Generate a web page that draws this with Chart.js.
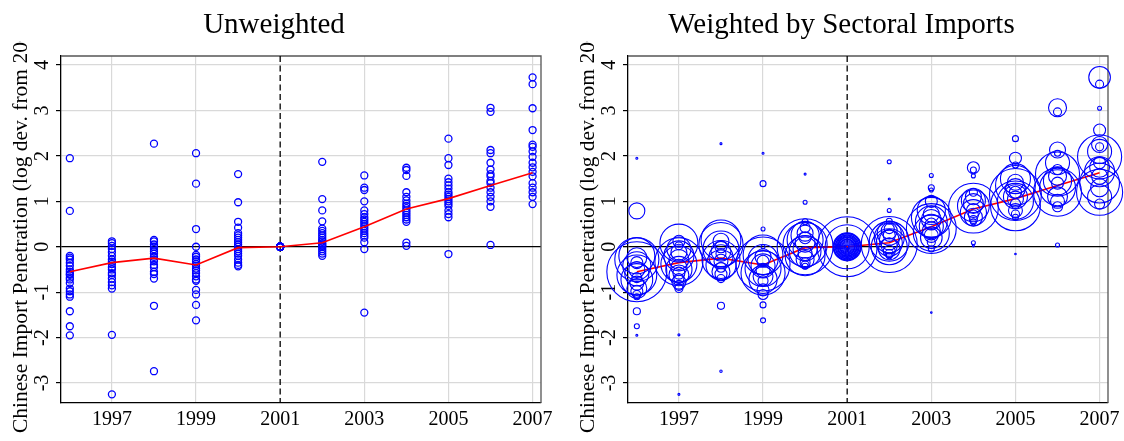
<!DOCTYPE html>
<html>
<head>
<meta charset="utf-8">
<script src="https://cdn.jsdelivr.net/npm/chart.js@4/dist/chart.umd.min.js"></script>
<style>
  body { margin: 0; background: #fff; }
  #wrap { position: relative; width: 1124px; height: 441px; overflow: hidden; }
  canvas { position: absolute; top: 0; }
</style>
</head>
<body>
<div id="wrap">
  <canvas id="left" width="562" height="441" style="left:0"></canvas>
  <canvas id="right" width="562" height="441" style="left:562px"></canvas>
</div>
<script>
// years on the x axis, labelled every other year
const years = [1996, 1997, 1998, 1999, 2000, 2001, 2002, 2003, 2004, 2005, 2006, 2007];
const xTickValues = [1997, 1999, 2001, 2003, 2005, 2007];
const xTickLabels = ['1997', '1999', '2001', '2003', '2005', '2007'];
const yTicks = [-3, -2, -1, 0, 1, 2, 3, 4];

// red line (mean across sectors)
const meanPen = [-0.55, -0.35, -0.25, -0.40, -0.02, 0, 0.09, 0.44, 0.83, 1.06, 1.35, 1.63];

// sector values (log dev. from 2001) and sector imports (weights), per year
const pen1996 = [1.95, 0.79, -0.2, -0.24, -0.28, -0.35, -0.42, -0.5, -0.55, -0.6, -0.62, -0.68, -0.72, -0.8, -0.92, -0.98, -1.05, -1.1, -1.42, -1.75, -1.95];
const imp1996 = [0.11, 7.1, 36, 11, 54, 4, 22, 7.1, 100, 16, 44, 2.8, 28, 5.4, 11, 4, 1.8, 1, 1.4, 0.7, 0.11];
const pen1997 = [0.12, 0.08, 0.02, -0.05, -0.12, -0.2, -0.28, -0.33, -0.38, -0.45, -0.5, -0.58, -0.62, -0.7, -0.78, -0.85, -0.92, -1.94, -3.25];
const imp1997 = [4, 40, 1.8, 16, 7.1, 25, 11, 64, 36, 7.1, 19, 4, 11, 2.8, 5.4, 2.8, 1.8, 0.11, 0.11];
const pen1998 = [2.27, 0.15, 0.12, 0.05, 0.0, -0.05, -0.1, -0.15, -0.22, -0.28, -0.32, -0.4, -0.45, -0.55, -0.6, -0.7, -1.3, -2.74];
const imp1998 = [0.11, 44, 7.1, 54, 4, 36, 11, 2.8, 16, 40, 5.4, 25, 2.8, 9, 4, 1.8, 1.4, 0.16];
const pen1999 = [2.06, 1.39, 0.39, 0.0, -0.18, -0.22, -0.28, -0.32, -0.38, -0.42, -0.48, -0.52, -0.58, -0.65, -0.72, -0.75, -0.95, -1.05, -1.28, -1.62];
const imp1999 = [0.11, 1, 0.44, 0.44, 44, 7.1, 25, 4, 81, 16, 36, 5.4, 54, 11, 22, 2.8, 4, 2.8, 1, 0.7];
const pen2000 = [1.6, 0.98, 0.55, 0.42, 0.3, 0.25, 0.2, 0.15, 0.1, 0.05, 0.0, -0.05, -0.1, -0.15, -0.2, -0.28, -0.35, -0.4, -0.43];
const imp2000 = [0.11, 0.44, 1, 2.8, 7.1, 22, 4, 36, 11, 54, 87, 16, 28, 5.4, 44, 9, 2.8, 1.8, 1];
const pen2001 = [0, 0, 0, 0, 0, 0, 0, 0, 0, 0, 0, 0, 0, 0, 0, 0, 0, 0, 0, 0];
const imp2001 = [100, 54, 22, 20, 19, 16, 15, 13, 11, 10, 9, 7.1, 6.3, 5.4, 4, 2.8, 1.8, 1, 0.44, 0.25];
const pen2002 = [1.87, 1.05, 0.8, 0.56, 0.4, 0.35, 0.3, 0.25, 0.2, 0.15, 0.12, 0.08, 0.05, 0.02, 0.0, -0.05, -0.1, -0.15, -0.2];
const imp2002 = [0.44, 0.11, 0.44, 1, 2.8, 7.1, 16, 4, 25, 11, 44, 19, 87, 7.1, 36, 13, 4, 1.8, 1];
const pen2003 = [1.57, 1.3, 1.25, 1.0, 0.8, 0.72, 0.65, 0.6, 0.55, 0.5, 0.45, 0.4, 0.35, 0.3, 0.25, 0.2, 0.1, -0.05, -1.45];
const imp2003 = [0.44, 1, 0.44, 4, 22, 7.1, 44, 11, 28, 4, 16, 69, 9, 36, 5.4, 13, 1.8, 1, 0.07];
const pen2004 = [1.74, 1.69, 1.56, 1.2, 1.1, 1.02, 0.95, 0.9, 0.85, 0.8, 0.75, 0.7, 0.65, 0.6, 0.55, 0.09, 0.02];
const imp2004 = [4, 1, 0.44, 1.8, 7.1, 16, 11, 28, 69, 5.4, 19, 2.8, 9, 1.8, 1, 0.44, 0.11];
const pen2005 = [2.38, 1.95, 1.8, 1.5, 1.42, 1.35, 1.28, 1.2, 1.15, 1.1, 1.05, 1.0, 0.95, 0.9, 0.8, 0.72, 0.65, -0.16];
const imp2005 = [1, 4, 1, 25, 7.1, 44, 11, 4, 75, 16, 7.1, 36, 2.8, 69, 5.4, 1.8, 1, 0.07];
const pen2006 = [3.06, 2.97, 2.13, 2.06, 1.85, 1.7, 1.6, 1.55, 1.45, 1.4, 1.3, 1.2, 1.1, 1.0, 0.88, 0.04];
const imp2006 = [9, 1.8, 7.1, 1, 16, 2.8, 54, 9, 22, 4, 36, 64, 11, 5.4, 2.8, 0.44];
const pen2007 = [3.73, 3.58, 3.05, 2.57, 2.25, 2.2, 2.1, 1.98, 1.85, 1.75, 1.65, 1.55, 1.4, 1.3, 1.2, 1.1, 0.94];
const imp2007 = [13, 1.8, 0.44, 4, 7.1, 1.8, 16, 54, 4, 11, 25, 7.1, 44, 9, 59, 16, 2.8];

const penByYear = [pen1996, pen1997, pen1998, pen1999, pen2000, pen2001, pen2002, pen2003, pen2004, pen2005, pen2006, pen2007];
const impByYear = [imp1996, imp1997, imp1998, imp1999, imp2000, imp2001, imp2002, imp2003, imp2004, imp2005, imp2006, imp2007];

const yTitle = 'Chinese Import Penetration (log dev. from 2001)';

Chart.defaults.font.family = '"Liberation Serif", "DejaVu Serif", serif';
Chart.defaults.color = '#000';

const points = [];
years.forEach((yr, i) => {
  penByYear[i].forEach((v, j) => points.push({ x: yr, y: v, w: impByYear[i][j] }));
});
const meanPoints = years.map((yr, i) => ({ x: yr, y: meanPen[i] }));

// dashed 2001 line, frame, titles
const decor = {
  id: 'decor',
  beforeDatasetsDraw(chart) {
    const { ctx, chartArea: a, scales: { x } } = chart;
    const px = x.getPixelForValue(2001);
    ctx.save();
    ctx.strokeStyle = '#555';
    ctx.lineWidth = 1.3;
    ctx.beginPath();
    ctx.moveTo(a.left, a.top); ctx.lineTo(a.right, a.top); ctx.lineTo(a.right, a.bottom);
    ctx.stroke();
    ctx.strokeStyle = '#000';
    ctx.setLineDash([6, 3.5]);
    ctx.beginPath(); ctx.moveTo(px, a.top); ctx.lineTo(px, a.bottom); ctx.stroke();
    ctx.restore();
  },
  afterDraw(chart, args, o) {
    const ctx = chart.ctx;
    ctx.save();
    ctx.fillStyle = '#000';
    ctx.font = '29px "Liberation Serif"';
    ctx.textAlign = 'center';
    ctx.textBaseline = 'alphabetic';
    ctx.fillText(o.title, o.titleX, 33);
    ctx.beginPath();
    ctx.rect(0, 41, chart.width, chart.height);
    ctx.clip();
    ctx.translate(o.yTitleX, 433);
    ctx.rotate(-Math.PI / 2);
    ctx.font = '21.5px "Liberation Serif"';
    ctx.textAlign = 'left';
    ctx.fillText(yTitle, 0, 0);
    ctx.restore();
  }
};

function makePanel(id, weighted, title, titleX, yTitleX, axisW, padRight) {
  return new Chart(document.getElementById(id), {
    data: {
      datasets: [
        {
          type: 'line',
          data: meanPoints,
          borderColor: '#ff0000',
          borderWidth: 1.6,
          pointRadius: 0,
          tension: 0,
          order: weighted ? 2 : 0
        },
        {
          type: 'scatter',
          data: points,
          clip: false,
          borderColor: '#0000ff',
          backgroundColor: 'rgba(0,0,0,0)',
          borderWidth: weighted ? 1.1 : 1.3,
          pointRadius: c => weighted ? 3 * Math.sqrt(c.raw.w) : 3.5,
          order: 1
        }
      ]
    },
    options: {
      responsive: false,
      animation: false,
      devicePixelRatio: 1,
      layout: { autoPadding: false, padding: { top: 56, right: padRight, left: 0, bottom: 0 } },
      plugins: {
        legend: { display: false },
        tooltip: { enabled: false },
        decor: { title, titleX, yTitleX }
      },
      scales: {
        x: {
          type: 'linear',
          min: 1995.79,
          max: 2007.2,
          afterBuildTicks: s => { s.ticks = xTickValues.map(v => ({ value: v })); },
          afterFit: s => { s.height = 38; s.paddingLeft = 0; s.paddingRight = 0; },
          ticks: {
            font: { size: 20 },
            padding: 5,
            maxRotation: 0,
            callback: v => xTickLabels[xTickValues.indexOf(v)]
          },
          grid: {
            color: c => (c.tick && c.tick.value === 2001) ? 'rgba(0,0,0,0)' : '#d9d9d9',
            lineWidth: 1.2,
            drawTicks: false
          },
          border: { color: '#000', width: 1.3 }
        },
        y: {
          type: 'linear',
          min: -3.44,
          max: 4.2,
          afterBuildTicks: s => { s.ticks = yTicks.map(v => ({ value: v })); },
          afterFit: s => { s.width = axisW; s.paddingTop = 0; s.paddingBottom = 0; },
          ticks: {
            font: { size: 20 },
            minRotation: 90,
            maxRotation: 90,
            crossAlign: 'center',
            padding: 5,
            callback: v => String(v)
          },
          grid: {
            color: c => (c.tick && c.tick.value === 0) ? '#000' : '#d9d9d9',
            lineWidth: c => (c.tick && c.tick.value === 0) ? 1.3 : 1.2,
            tickColor: '#000',
            tickLength: 5
          },
          border: { color: '#000', width: 1.3 }
        }
      }
    },
    plugins: [decor]
  });
}

makePanel('left', false, 'Unweighted', 274, 27, 61, 21);
makePanel('right', true, 'Weighted by Sectoral Imports', 279.5, 32, 66, 16);
</script>
</body>
</html>
